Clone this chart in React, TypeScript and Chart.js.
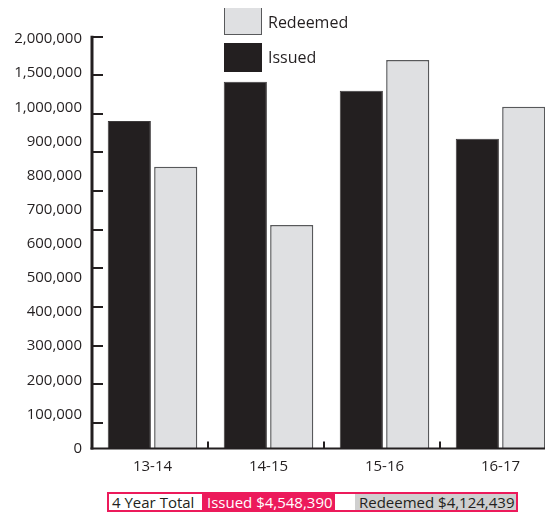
import React, { useEffect, useRef } from 'react';
import { Chart, registerables, LinearScale } from 'chart.js';

Chart.register(...registerables);

// ---------- data ----------
const CATEGORIES = ['13-14', '14-15', '15-16', '16-17'];
const ISSUED = [960000, 1375000, 1242000, 908000];
const REDEEMED = [826000, 655000, 1692000, 1008000];
const Y_TICKS = [0, 100000, 200000, 300000, 400000, 500000, 600000, 700000, 800000, 900000, 1000000, 1500000, 2000000];
const SERIES_ISSUED = 'Issued';
const SERIES_REDEEMED = 'Redeemed';
const TOTAL_LABEL = '4 Year Total';
const TOTAL_ISSUED = '$4,548,390';
const TOTAL_REDEEMED = '$4,124,439';

// ---------- style ----------
const INK = '#231f20';
const LIGHT = '#dfe0e2';
const LIGHT_BORDER = '#58595b';
const PINK = '#ec1a5b';
const FOOT_GRAY = '#cfcfcf';
const FONT = "'Open Sans', sans-serif";

function valueToIndex(v: number): number {
  const t = Y_TICKS;
  const n = t.length - 1;
  if (v <= t[0]) return (v - t[0]) / (t[1] - t[0]);
  for (let i = 1; i <= n; i++) {
    if (v <= t[i]) return i - 1 + (v - t[i - 1]) / (t[i] - t[i - 1]);
  }
  return n + (v - t[n]) / (t[n] - t[n - 1]);
}
function indexToValue(idx: number): number {
  const t = Y_TICKS;
  const n = t.length - 1;
  if (idx <= 0) return t[0] + idx * (t[1] - t[0]);
  if (idx >= n) return t[n] + (idx - n) * (t[n] - t[n - 1]);
  const i = Math.floor(idx);
  return t[i] + (idx - i) * (t[i + 1] - t[i]);
}

// Linear-looking scale whose labelled values are evenly spaced (as in the original graphic)
class BrokenLinearScale extends (LinearScale as any) {
  static id = 'brokenLinear';
  static defaults = (LinearScale as any).defaults;
  determineDataLimits() {
    this.min = Y_TICKS[0];
    this.max = Y_TICKS[Y_TICKS.length - 1];
  }
  buildTicks() {
    return Y_TICKS.map((value) => ({ value }));
  }
  getPixelForValue(value: number) {
    if (value === null || value === undefined || isNaN(value)) return NaN;
    return this.getPixelForDecimal(valueToIndex(value) / (Y_TICKS.length - 1));
  }
  getValueForPixel(pixel: number) {
    return indexToValue(this.getDecimalForPixel(pixel) * (Y_TICKS.length - 1));
  }
}
Chart.register(BrokenLinearScale as any);

const AXIS_MARKS = 10;

const axisDecor = {
  id: 'axisDecor',
  afterDatasetsDraw(chart: any) {
    const { ctx, chartArea, scales } = chart;
    const x = scales.x;
    const marks = scales.marks;
    ctx.save();
    ctx.strokeStyle = INK;
    ctx.lineCap = 'butt';
    // y axis line
    const topMark = marks.getPixelForValue(AXIS_MARKS);
    ctx.lineWidth = 3;
    ctx.beginPath();
    ctx.moveTo(chartArea.left, topMark - 1);
    ctx.lineTo(chartArea.left, chartArea.bottom + 1);
    ctx.stroke();
    // tick marks
    ctx.lineWidth = 2;
    ctx.beginPath();
    for (let k = 0; k <= AXIS_MARKS; k++) {
      const py = Math.round(marks.getPixelForValue(k));
      ctx.moveTo(chartArea.left, py);
      ctx.lineTo(chartArea.left + 11, py);
    }
    ctx.stroke();
    // x axis line
    ctx.lineWidth = 2;
    ctx.beginPath();
    ctx.moveTo(chartArea.left - 1.5, chartArea.bottom);
    ctx.lineTo(chartArea.right, chartArea.bottom);
    ctx.stroke();
    // notches between groups
    ctx.beginPath();
    for (let i = 0; i < CATEGORIES.length - 1; i++) {
      const px = Math.round(x.getPixelForValue(i + 0.48));
      ctx.moveTo(px, chartArea.bottom);
      ctx.lineTo(px, chartArea.bottom - 7);
    }
    ctx.stroke();
    ctx.restore();
  },
};

export default function App() {
  const canvasRef = useRef<HTMLCanvasElement | null>(null);

  useEffect(() => {
    if (!canvasRef.current) return;
    const chart = new Chart(canvasRef.current, {
      type: 'bar',
      data: {
        datasets: [
          {
            label: SERIES_ISSUED,
            data: CATEGORIES.map((_, i) => ({ x: i, y: ISSUED[i] })),
            backgroundColor: INK,
            borderColor: '#3d3a3b',
            borderWidth: 1,
            categoryPercentage: 0.8,
            barPercentage: 0.93,
          },
          {
            label: SERIES_REDEEMED,
            data: CATEGORIES.map((_, i) => ({ x: i, y: REDEEMED[i] })),
            backgroundColor: LIGHT,
            borderColor: LIGHT_BORDER,
            borderWidth: 1.5,
            categoryPercentage: 0.8,
            barPercentage: 0.93,
          },
        ],
      } as any,
      options: {
        animation: false,
        responsive: true,
        maintainAspectRatio: false,
        layout: { padding: { left: 0, right: 7, top: 31, bottom: 0 } },
        plugins: { legend: { display: false }, tooltip: { enabled: false } },
        scales: {
          x: {
            type: 'linear',
            offset: false,
            min: -0.5216,
            max: 3.392,
            grid: { display: false, drawTicks: false, offset: false },
            border: { display: false },
            afterBuildTicks: (s: any) => {
              s.ticks = CATEGORIES.map((_, i) => ({ value: i }));
            },
            afterFit: (s: any) => {
              s.height = 39.5;
            },
            ticks: {
              padding: 9,
              autoSkip: false,
              maxRotation: 0,
              color: INK,
              font: { family: FONT, size: 15 },
              callback: (v: any) => CATEGORIES[v] ?? '',
            },
          },
          y: {
            type: 'brokenLinear',
            position: 'left',
            grid: { display: false, drawTicks: false },
            border: { display: false },
            afterFit: (s: any) => {
              s.width = 84;
            },
            ticks: {
              padding: 10,
              autoSkip: false,
              color: INK,
              font: { family: FONT, size: 15 },
              callback: (v: any) => Number(v).toLocaleString('en-US'),
            },
          },
          marks: {
            type: 'linear',
            position: 'left',
            display: false,
            min: -0.668,
            max: 9.94,
          },
        } as any,
      },
      plugins: [axisDecor],
    } as any);
    return () => chart.destroy();
  }, []);

  const legendText: React.CSSProperties = {
    position: 'absolute',
    left: 260,
    fontFamily: FONT,
    fontSize: 16,
    lineHeight: '20px',
    color: INK,
    whiteSpace: 'nowrap',
  };
  const footText: React.CSSProperties = {
    position: 'absolute',
    top: 0,
    height: 16,
    fontFamily: FONT,
    fontSize: 15,
    lineHeight: '16px',
    whiteSpace: 'nowrap',
    boxSizing: 'border-box',
  };

  return (
    <div style={{ position: 'relative', width: 545, height: 507 }}>
      <div style={{ position: 'absolute', left: 0, top: 0, width: 545, height: 480 }}>
        <canvas ref={canvasRef} />
      </div>
      {/* legend */}
      <div
        style={{
          position: 'absolute',
          left: 216,
          top: -1,
          width: 38,
          height: 28,
          background: LIGHT,
          border: `1.5px solid ${LIGHT_BORDER}`,
          boxSizing: 'border-box',
        }}
      />
      <div style={{ ...legendText, top: 4 }}>{SERIES_REDEEMED}</div>
      <div
        style={{
          position: 'absolute',
          left: 216,
          top: 35,
          width: 38,
          height: 29,
          background: INK,
        }}
      />
      <div style={{ ...legendText, top: 39 }}>{SERIES_ISSUED}</div>
      {/* totals footer */}
      <div
        style={{
          position: 'absolute',
          left: 99,
          top: 484,
          width: 411,
          height: 20,
          border: `2px solid ${PINK}`,
          boxSizing: 'border-box',
          background: '#fff',
        }}
      >
        <div style={{ ...footText, left: 0, width: 93, paddingLeft: 3, color: INK, background: '#fff' }}>
          {TOTAL_LABEL}
        </div>
        <div style={{ ...footText, left: 93, width: 133, paddingLeft: 5, color: '#fff', background: PINK }}>
          {`${SERIES_ISSUED} ${TOTAL_ISSUED}`}
        </div>
        <div style={{ ...footText, left: 246, width: 161, paddingLeft: 4, color: INK, background: FOOT_GRAY }}>
          {`${SERIES_REDEEMED} ${TOTAL_REDEEMED}`}
        </div>
      </div>
    </div>
  );
}
